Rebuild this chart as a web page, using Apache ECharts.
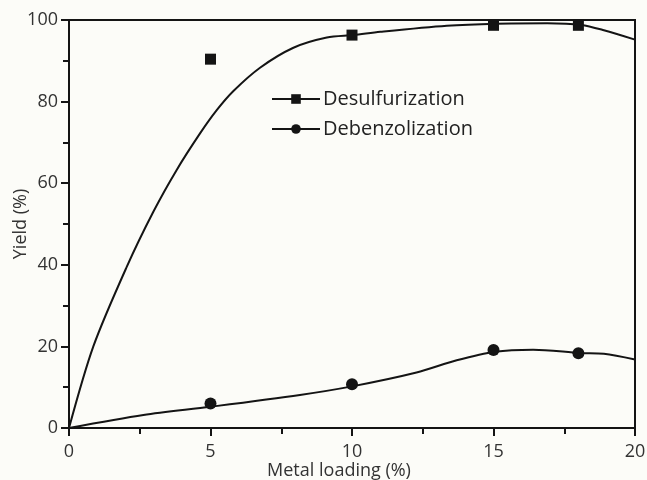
<!DOCTYPE html>
<html>
<head>
<meta charset="utf-8">
<script src="https://cdn.jsdelivr.net/npm/echarts@6/dist/echarts.min.js"></script>
<style>
  html, body { margin: 0; padding: 0; background: #fcfcf8; }
  #chart { width: 647px; height: 480px; }
</style>
</head>
<body>
<div id="chart"></div>
<script>
// measured points (markers)
const loadings = [5, 10, 15, 18]
const desulfurization = [90.4, 96.3, 98.7, 98.7]
const debenzolization = [6.0, 10.7, 19.1, 18.3]

// fitted curves
const desulfCurveX = [0, 0.86, 2.04, 2.98, 3.8, 4.63, 5.22, 5.81, 6.75, 7.93, 9.11, 10.05, 11, 13.35, 15.1, 16.9, 18.1, 18.9, 20]
const desulfCurveY = [0, 20, 39.5, 53, 63.2, 72.2, 77.9, 82.6, 88.3, 93.2, 95.7, 96.3, 97.1, 98.6, 99.1, 99.2, 98.8, 97.5, 95.2]
const debenzCurveX = [0, 2.63, 5, 8.16, 10, 12.28, 13.7, 15.05, 16.4, 18.06, 18.9, 20]
const debenzCurveY = [0, 3.2, 5.2, 8.1, 10.2, 13.6, 16.6, 18.7, 19.2, 18.4, 18.2, 16.8]

const xTicks = [0, 5, 10, 15, 20]
const yTicks = [0, 20, 40, 60, 80, 100]

const pair = (xs, ys) => xs.map((x, i) => [x, ys[i]])

const chart = echarts.init(document.getElementById('chart'))
const font = '"Open Sans", "Noto Sans", sans-serif'
const ink = '#141414'

const axisCommon = {
  type: 'value',
  nameMoveOverlap: false,
  axisLine: { show: true, lineStyle: { color: ink, width: 2 } },
  axisTick: { show: true, inside: false, length: 8, lineStyle: { color: ink, width: 2 } },
  minorTick: { show: true, splitNumber: 2, length: 6, lineStyle: { color: ink, width: 2 } },
  splitLine: { show: false },
  axisLabel: { color: '#333', fontSize: 18, fontFamily: font },
  nameTextStyle: { color: '#333', fontSize: 18, fontFamily: font }
}

const option = {
  backgroundColor: '#fcfcf8',
  animation: false,
  grid: {
    left: 69, right: 12, top: 20, bottom: 52,
    outerBoundsMode: 'none', containLabel: false,
    show: true, borderColor: ink, borderWidth: 2
  },
  xAxis: Object.assign({}, axisCommon, {
    min: xTicks[0], max: xTicks[xTicks.length - 1], interval: 5,
    name: 'Metal loading (%)', nameLocation: 'middle', nameGap: 34,
    nameTextStyle: Object.assign({}, axisCommon.nameTextStyle, { padding: [0, 26, 0, 0] }),
    axisLabel: Object.assign({}, axisCommon.axisLabel, { margin: 15 })
  }),
  yAxis: Object.assign({}, axisCommon, {
    min: yTicks[0], max: yTicks[yTicks.length - 1], interval: 20,
    name: 'Yield (%)', nameLocation: 'middle', nameGap: 39,
    axisLabel: Object.assign({}, axisCommon.axisLabel, { margin: 11 })
  }),
  legend: {
    left: 266, top: 84, orient: 'vertical', itemGap: 10,
    itemWidth: 48, itemHeight: 12,
    textStyle: { fontSize: 20, color: '#222', fontFamily: font, padding: [0, 0, 0, -2] },
    data: [
      { name: 'Desulfurization', lineStyle: { opacity: 1, width: 2, color: ink } },
      { name: 'Debenzolization', lineStyle: { opacity: 1, width: 2, color: ink } }
    ]
  },
  series: [
    {
      name: 'desulf fit', type: 'line', smooth: 0.3, showSymbol: false,
      data: pair(desulfCurveX, desulfCurveY),
      lineStyle: { color: ink, width: 2 }, silent: true
    },
    {
      name: 'debenz fit', type: 'line', smooth: 0.3, showSymbol: false,
      data: pair(debenzCurveX, debenzCurveY),
      lineStyle: { color: ink, width: 2 }, silent: true
    },
    {
      name: 'Desulfurization', type: 'line', symbol: 'rect', symbolSize: 11,
      data: pair(loadings, desulfurization),
      lineStyle: { opacity: 0 }, itemStyle: { color: ink }, z: 3
    },
    {
      name: 'Debenzolization', type: 'line', symbol: 'circle', symbolSize: 12,
      data: pair(loadings, debenzolization),
      lineStyle: { opacity: 0 }, itemStyle: { color: ink }, z: 3
    }
  ]
}

chart.setOption(option)
</script>
</body>
</html>
